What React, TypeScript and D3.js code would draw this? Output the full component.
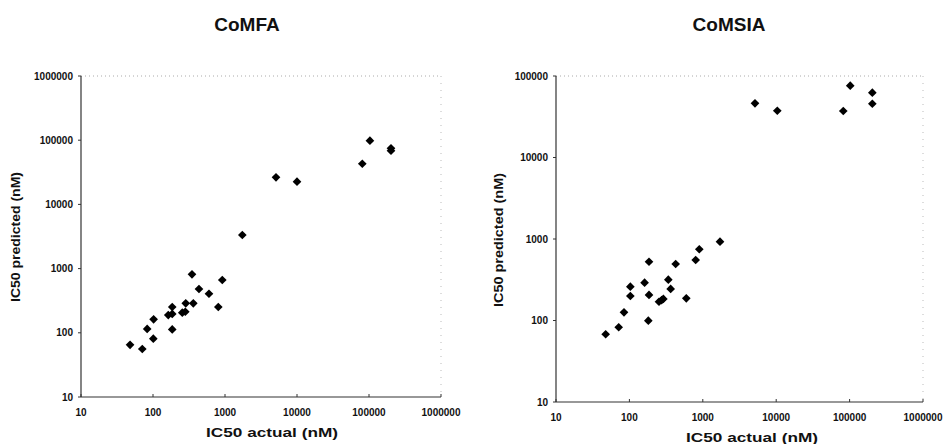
import React from "react";
import * as d3 from "d3";

// values (nM)
const comfaActual = [48, 71, 83, 101, 102, 163, 185, 185, 185, 255, 281, 285, 363, 348, 435, 599, 807, 917, 1740, 5110, 10000, 80700, 103000, 202000, 202000];
const comfaPredicted = [65, 56, 115, 81, 162, 189, 197, 252, 113, 206, 213, 288, 288, 815, 481, 406, 252, 664, 3340, 26400, 22600, 43000, 98200, 74800, 68600];

const comsiaActual = [47.5, 71.5, 84.4, 103, 103, 161, 185, 185, 181, 253, 275, 290, 339, 365, 427, 596, 800, 896, 1715, 5140, 10350, 82000, 102000, 204000, 204000];
const comsiaPredicted = [67.8, 82.6, 126, 200, 260, 291, 526, 206, 99.5, 170, 178, 184, 317, 244, 493, 187, 552, 748, 927, 46200, 37500, 37200, 76000, 62400, 45700];

const xTicks = [10, 100, 1000, 10000, 100000, 1000000];
const comfaYTicks = [10, 100, 1000, 10000, 100000, 1000000];
const comsiaYTicks = [10, 100, 1000, 10000, 100000];

const FONT = "'Liberation Sans', Arial, sans-serif";

type PanelProps = {
  title: string;
  actual: number[];
  predicted: number[];
  yTicks: number[];
  left: number;
  right: number;
  top: number;
  bottom: number;
  titleX: number;
  xLabelX: number;
  xLabelW: number;
  yLabelX: number;
  yLabelY: number;
  yLabelW: number;
};

const Panel = (p: PanelProps) => {
  const x = d3.scaleLog().domain([10, 1000000]).range([p.left, p.right]);
  const y = d3
    .scaleLog()
    .domain([10, p.yTicks[p.yTicks.length - 1]])
    .range([p.bottom, p.top]);
  const diamond = d3.symbol().type(d3.symbolDiamond2).size(48)();

  return (
    <g>
      <text x={p.titleX} y={31} textAnchor="middle" fontFamily={FONT} fontWeight="bold" fontSize={19} fill="#111">
        {p.title}
      </text>

      {/* faint frame on top and right, like the scan */}
      <line x1={p.left} x2={p.right} y1={p.top} y2={p.top} stroke="#aaa" strokeWidth={1} strokeDasharray="1,3" />
      <line x1={p.right} x2={p.right} y1={p.top} y2={p.bottom} stroke="#bbb" strokeWidth={1} strokeDasharray="1,6" />

      {/* axes */}
      <line x1={p.left} x2={p.left} y1={p.top} y2={p.bottom} stroke="#333" strokeWidth={1.2} />
      <line x1={p.left} x2={p.right} y1={p.bottom} y2={p.bottom} stroke="#333" strokeWidth={1.2} />

      {p.yTicks.map((t) => (
        <g key={"y" + t}>
          <line x1={p.left - 3} x2={p.left} y1={y(t)} y2={y(t)} stroke="#333" />
          <text x={p.left - 8} y={y(t)} dy="0.35em" textAnchor="end" fontFamily={FONT} fontWeight="bold" fontSize={10} fill="#111">
            {String(t)}
          </text>
        </g>
      ))}

      {xTicks.map((t) => (
        <g key={"x" + t}>
          <line x1={x(t)} x2={x(t)} y1={p.bottom} y2={p.bottom - 3} stroke="#333" />
          <text x={x(t)} y={p.bottom + 19} textAnchor="middle" fontFamily={FONT} fontWeight="bold" fontSize={10} fill="#111">
            {String(t)}
          </text>
        </g>
      ))}

      {p.actual.map((a, i) => (
        <path key={i} d={diamond} transform={`translate(${x(a)},${y(p.predicted[i])})`} fill="#000" />
      ))}

      <text
        x={p.xLabelX}
        y={p.bottom + 40}
        textAnchor="middle"
        textLength={p.xLabelW}
        lengthAdjust="spacingAndGlyphs"
        fontFamily={FONT}
        fontWeight="bold"
        fontSize={13.5}
        fill="#111"
      >
        IC50 actual (nM)
      </text>
      <text
        transform={`translate(${p.yLabelX},${p.yLabelY}) rotate(-90)`}
        textAnchor="middle"
        dy="0.35em"
        textLength={p.yLabelW}
        lengthAdjust="spacingAndGlyphs"
        fontFamily={FONT}
        fontWeight="bold"
        fontSize={12.5}
        fill="#111"
      >
        IC50 predicted (nM)
      </text>
    </g>
  );
};

export default function App() {
  return (
    <svg width={944} height={444} style={{ position: "absolute", left: 0, top: 0, background: "#fff" }}>
      <Panel
        title="CoMFA"
        actual={comfaActual}
        predicted={comfaPredicted}
        yTicks={comfaYTicks}
        left={81}
        right={441}
        top={76}
        bottom={397}
        titleX={247}
        xLabelX={272}
        xLabelW={132}
        yLabelX={16}
        yLabelY={237}
        yLabelW={130}
      />
      <Panel
        title="CoMSIA"
        actual={comsiaActual}
        predicted={comsiaPredicted}
        yTicks={comsiaYTicks}
        left={556}
        right={923}
        top={76}
        bottom={402}
        titleX={729}
        xLabelX={752}
        xLabelW={132}
        yLabelX={499}
        yLabelY={240}
        yLabelW={134}
      />
    </svg>
  );
}
